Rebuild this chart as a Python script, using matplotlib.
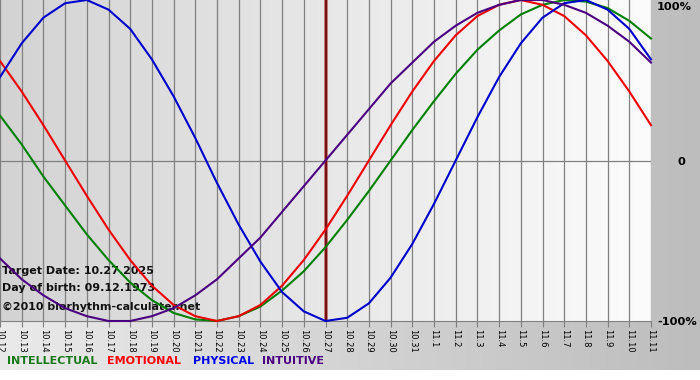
import numpy as np
import matplotlib.pyplot as plt
from matplotlib.colors import LinearSegmentedColormap

## day labels (month.day) and daily cycle values
days = ['10.12', '10.13', '10.14', '10.15', '10.16', '10.17', '10.18', '10.19',
        '10.20', '10.21', '10.22', '10.23', '10.24', '10.25', '10.26', '10.27',
        '10.28', '10.29', '10.30', '10.31', '11.1', '11.2', '11.3', '11.4',
        '11.5', '11.6', '11.7', '11.8', '11.9', '11.10', '11.11']
offset = list(range(-15, 16))

physical = [0.52, 0.73, 0.89, 0.98, 1.00, 0.94, 0.82, 0.63, 0.40, 0.14, -0.14,
            -0.40, -0.63, -0.82, -0.94, -1.00, -0.98, -0.89, -0.73, -0.52, -0.27,
            0.00, 0.27, 0.52, 0.73, 0.89, 0.98, 1.00, 0.94, 0.82, 0.63]
emotional = [0.62, 0.43, 0.22, 0.00, -0.22, -0.43, -0.62, -0.78, -0.90, -0.97,
             -1.00, -0.97, -0.90, -0.78, -0.62, -0.43, -0.22, 0.00, 0.22, 0.43,
             0.62, 0.78, 0.90, 0.97, 1.00, 0.97, 0.90, 0.78, 0.62, 0.43, 0.22]
intellectual = [0.28, 0.10, -0.10, -0.28, -0.46, -0.62, -0.76, -0.87, -0.95, -0.99,
                -1.00, -0.97, -0.91, -0.81, -0.69, -0.54, -0.37, -0.19, 0.00, 0.19,
                0.37, 0.54, 0.69, 0.81, 0.91, 0.97, 1.00, 0.99, 0.95, 0.87, 0.76]
intuitive = [-0.61, -0.74, -0.84, -0.92, -0.97, -1.00, -1.00, -0.97, -0.92, -0.84,
             -0.74, -0.61, -0.48, -0.32, -0.16, 0.00, 0.16, 0.32, 0.48, 0.61,
             0.74, 0.84, 0.92, 0.97, 1.00, 1.00, 0.97, 0.92, 0.84, 0.74, 0.61]

W, H = 700, 380
fig = plt.figure(figsize=(7, 3.8), dpi=100)

## outer background gradient
bg = fig.add_axes([0, 0, 1, 1])
bg.axis('off')
bg.set_xlim(0, W)
bg.set_ylim(0, H)
grad = np.linspace(0, 1, 256).reshape(1, -1)
bg.imshow(grad, cmap=LinearSegmentedColormap.from_list('o', ['#eaeaea', '#bdbdbd']),
          aspect='auto', extent=[0, W, 10, H])

## chart area
ax = fig.add_axes([0, 59 / H, 651 / W, 321 / H])
ax.imshow(grad, cmap=LinearSegmentedColormap.from_list('p', ['#d3d3d3', '#fcfcfc']),
          aspect='auto', extent=[-15, 15, -1, 1], zorder=0)
ax.set_xlim(-15, 15)
ax.set_ylim(-1, 1)
for v in offset:
    ax.axvline(v, color='#808080', lw=0.9, zorder=1)
ax.axhline(0, color='#808080', lw=0.9, zorder=1)
ax.axvline(0, color='#c06060', lw=2.6, zorder=2)
ax.axvline(0, color='#701010', lw=1.4, zorder=2)

style = dict(lw=1.5, clip_on=False, zorder=5, solid_joinstyle='round')
ax.plot(offset, intellectual, color='#008000', **style)
ax.plot(offset, emotional, color='#ee0000', **style)
ax.plot(offset, physical, color='#0000cc', **style)
ax.plot(offset, intuitive, color='#4b0082', **style)

ax.set_xticks(offset)
ax.set_xticklabels(days, rotation=270, fontsize=6, va='top', ha='center')
ax.tick_params(axis='x', length=4, color='#808080', pad=1.5)
ax.set_yticks([])
for s in ['top', 'left', 'right']:
    ax.spines[s].set_visible(False)
ax.spines['bottom'].set_color('#808080')

def ftext(px, py, s, **kw):
    fig.text(px / W, 1 - py / H, s, **kw)

## info text inside chart (drawn under the curves)
ax.text(0.003, 1 - 271 / 321, 'Target Date: 10.27.2025', transform=ax.transAxes,
        fontsize=8.0, fontweight='bold', color='#111111', va='center', zorder=3)
ax.text(0.003, 1 - 288 / 321, 'Day of birth: 09.12.1973', transform=ax.transAxes,
        fontsize=8.0, fontweight='bold', color='#111111', va='center', zorder=3)
ax.text(0.003, 1 - 307 / 321, '\u00a92010 biorhythm-calculater.net', transform=ax.transAxes,
        fontsize=7.9, fontweight='bold', color='#111111', va='center', zorder=3)

## right percent labels
ftext(657, 7, '100%', fontsize=8.2, fontweight='bold', va='center', ha='left')
ftext(678, 162, '0', fontsize=8.2, fontweight='bold', va='center', ha='left')
ftext(657, 322, '-100%', fontsize=8.2, fontweight='bold', va='center', ha='left')

## bottom legend
ftext(7, 361, 'INTELLECTUAL', fontsize=8, fontweight='bold', color='#1a7a1a', va='center')
ftext(107, 361, 'EMOTIONAL', fontsize=8, fontweight='bold', color='#ff0000', va='center')
ftext(193, 361, 'PHYSICAL', fontsize=8, fontweight='bold', color='#0000ee', va='center')
ftext(262, 361, 'INTUITIVE', fontsize=8, fontweight='bold', color='#4b0082', va='center')

fig.savefig('out.png', dpi=100)
